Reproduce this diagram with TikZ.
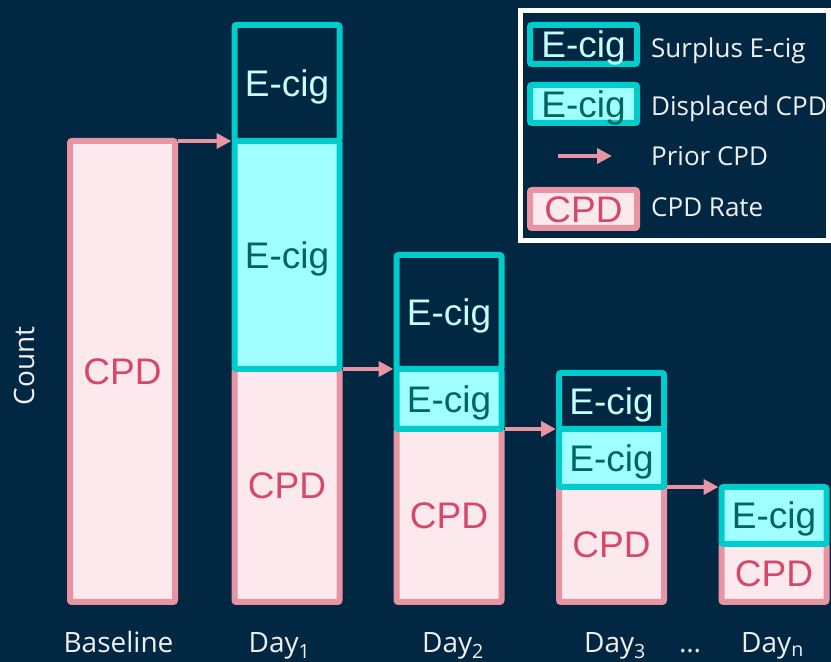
\documentclass[tikz,border=0pt]{standalone}
\usepackage{fontspec}
\setmainfont{Open Sans}
\newfontfamily\boxfont{Liberation Sans}
\usetikzlibrary{arrows.meta, positioning}

\definecolor{navy}{RGB}{1,39,66}
\definecolor{ecigline}{RGB}{0,204,204}
\definecolor{dispfill}{RGB}{160,255,255}
\definecolor{disptext}{RGB}{0,102,98}
\definecolor{surptext}{RGB}{196,255,255}
\definecolor{cpdline}{RGB}{232,148,162}
\definecolor{cpdfill}{RGB}{252,233,237}
\definecolor{cpdtext}{RGB}{214,72,106}
\definecolor{keytext}{RGB}{240,240,240}

\tikzset{
    bar/.style = {draw, line width = 6pt, rounded corners = 2pt, minimum width = 105pt,
        inner sep = 0pt, outer sep = 0pt, text height = 27pt, text depth = 0pt,
        font = \boxfont\fontsize{37}{40}\selectfont},
    cpd/.style = {bar, draw = cpdline, fill = cpdfill, text = cpdtext},
    disp/.style = {bar, draw = ecigline, fill = dispfill, text = disptext},
    surp/.style = {bar, draw = ecigline, fill = navy, text = surptext},
    prior/.style = {draw = cpdline, line width = 4.5pt, -{Triangle[length = 15pt, width = 15pt]}},
    keylabel/.style = {anchor = west, inner sep = 0pt, text = keytext, text height = 19pt,
        text depth = 0pt, font = \fontsize{26}{28}\selectfont},
    axislabel/.style = {anchor = base, inner sep = 0pt, text = keytext,
        font = \fontsize{28}{30}\selectfont}
}

\begin{document}
\begin{tikzpicture}[x = 1pt, y = 1pt]
    \fill [navy] (0,0) rectangle (831,662);
    \useasboundingbox (0,0) rectangle (831,662);

    % baseline column
    \node [cpd, minimum height = 461pt, anchor = south] (base) at (122.5,60) {CPD};

    % day 1
    \node [cpd, minimum height = 233pt, anchor = south] (d1cpd) at (287,60) {CPD};
    \node [disp, minimum height = 228pt, above = 0pt of d1cpd] (d1disp) {E-cig};
    \node [surp, minimum height = 116pt, above = 0pt of d1disp] (d1surp) {E-cig};

    % day 2
    \node [cpd, minimum height = 173pt, anchor = south] (d2cpd) at (449,60) {CPD};
    \node [disp, minimum height = 60pt, above = 0pt of d2cpd] (d2disp) {E-cig};
    \node [surp, minimum height = 114pt, above = 0pt of d2disp] (d2surp) {E-cig};

    % day 3
    \node [cpd, minimum height = 115pt, anchor = south] (d3cpd) at (611.5,60) {CPD};
    \node [disp, minimum height = 58pt, above = 0pt of d3cpd] (d3disp) {E-cig};
    \node [surp, minimum height = 56pt, above = 0pt of d3disp] (d3surp) {E-cig};

    % day n
    \node [cpd, minimum height = 58pt, anchor = south] (dncpd) at (774,60) {CPD};
    \node [disp, minimum height = 57pt, above = 0pt of dncpd] (dndisp) {E-cig};

    % carry the prior CPD over to the next day
    \draw [prior, shorten < = 3pt, shorten > = 3pt] (base.north east) -- (d1disp.north west);
    \draw [prior, shorten < = 3pt, shorten > = 3pt] (d1cpd.north east) -- (d2disp.north west);
    \draw [prior, shorten < = 3pt, shorten > = 3pt] (d2cpd.north east) -- (d3disp.north west);
    \draw [prior, shorten < = 3pt, shorten > = 3pt] (d3cpd.north east) -- (dndisp.north west);

    % axis labels
    \node [axislabel] (lbase) at (118.5,9) {Baseline};
    \node [axislabel] (lday1) at (279.5,9) {Day\textsubscript{1}};
    \node [axislabel] (lday2) at (453,9) {Day\textsubscript{2}};
    \node [axislabel] (lday3) at (615,9) {Day\textsubscript{3}};
    \node [axislabel] (ldots) at (690,9) {\dots};
    \node [axislabel] (ldayn) at (772.5,9) {Day\textsubscript{n}};
    \node [rotate = 90, inner sep = 0pt, text = keytext, font = \fontsize{28}{30}\selectfont,
        text height = 20pt, text depth = 0pt] (count) at (24,296) {Count};

    % key
    \node [draw = white, line width = 5pt, minimum width = 308pt, minimum height = 230pt,
        inner sep = 0pt, outer sep = 0pt, anchor = north west] (key) at (520.5,651.5) {};
    \node [surp, minimum width = 107pt, minimum height = 39pt] (ksurp) at (583.5,617.5) {E-cig};
    \node [disp, minimum width = 107pt, minimum height = 38pt] (kdisp) at (583.5,558) {E-cig};
    \coordinate (kfrom) at (558,506);
    \coordinate (kto) at (612,506);
    \draw [prior] (kfrom) -- (kto);
    \node [cpd, minimum width = 107pt, minimum height = 38pt] (kcpd) at (583.5,453) {CPD};
    \node [keylabel] (tsurp) at (651,614) {Surplus E-cig};
    \node [keylabel] (tdisp) at (651,555.5) {Displaced CPD};
    \node [keylabel] (tprior) at (651,506) {Prior CPD};
    \node [keylabel] (tcpd) at (651,454.5) {CPD Rate};
\end{tikzpicture}
\end{document}
